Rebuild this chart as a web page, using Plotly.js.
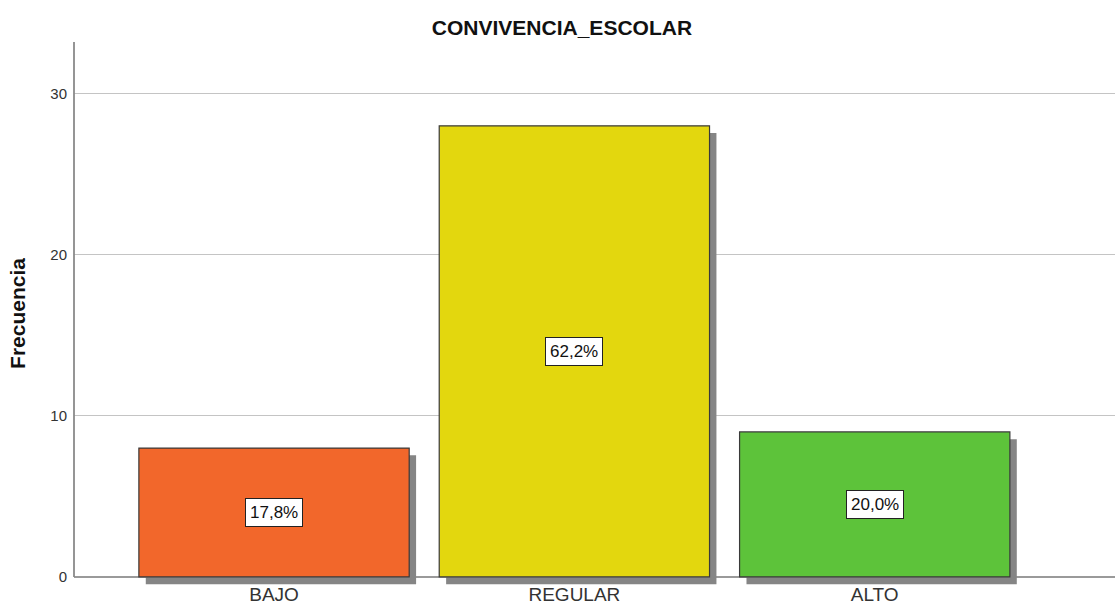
<!DOCTYPE html>
<html>
<head>
<meta charset="utf-8">
<script src="https://cdn.plot.ly/plotly-3.0.1.min.js"></script>
<style>html,body{margin:0;padding:0;background:#fff;}#chart{width:1115px;height:608px;}</style>
</head>
<body>
<div id="chart"></div>
<script>
const categories = ["BAJO", "REGULAR", "ALTO"];
const counts = [8, 28, 9];
const barColors = ["#F2672B", "#E3D70E", "#5DC33A"];
const yTicks = [0, 10, 20, 30];

const total = counts.reduce((a, b) => a + b, 0);
const pctLabels = counts.map(v => (v / total * 100).toFixed(1).replace('.', ',') + '%');

const FONT = "Liberation Sans, Arial, sans-serif";

const shadow = {
  type: 'bar', x: categories, y: counts, base: -0.45,
  width: 0.9, offset: -0.427,
  marker: {color: '#858585', line: {width: 0}},
  hoverinfo: 'skip', showlegend: false
};
const bars = {
  type: 'bar', x: categories, y: counts, width: 0.9,
  marker: {color: barColors, line: {color: '#3a3a3a', width: 1.2}},
  showlegend: false
};

const annotations = categories.map((c, i) => ({
  x: c, y: counts[i] / 2, xref: 'x', yref: 'y', text: pctLabels[i], showarrow: false,
  font: {family: FONT, size: 17, color: '#111'},
  bgcolor: '#ffffff', bordercolor: '#222', borderwidth: 1, borderpad: 4
}));

const layout = {
  width: 1115, height: 608,
  margin: {l: 74, r: 0, t: 42, b: 23},
  paper_bgcolor: '#fff', plot_bgcolor: '#fff',
  barmode: 'overlay',
  title: {text: 'CONVIVENCIA_ESCOLAR', x: 0.504, xref: 'container', y: 0.955, yref: 'container', yanchor: 'middle',
    font: {family: FONT, size: 21, color: '#111', weight: 'bold'}},
  xaxis: {type: 'category', range: [-0.666, 2.80], showgrid: false, showline: false, zeroline: false,
    ticks: '', ticklabelstandoff: -4, tickfont: {family: FONT, size: 19, color: '#333'}, fixedrange: true},
  yaxis: {range: [-0.5, 33.2], tickvals: yTicks, ticktext: yTicks.map(String), showgrid: true,
    gridcolor: '#c4c4c4', gridwidth: 1, zeroline: true, zerolinecolor: '#9a9a9a', zerolinewidth: 1.2,
    showline: false, ticks: '', ticklabelstandoff: 6,
    tickfont: {family: FONT, size: 15, color: '#333'},
    title: {text: 'Frecuencia', standoff: 18, font: {family: FONT, size: 21, color: '#111', weight: 'bold'}},
    fixedrange: true},
  shapes: [{type: 'line', xref: 'paper', yref: 'y', x0: 0, x1: 0, y0: 0, y1: 33.2,
    line: {color: '#8a8a8a', width: 1.8}}],
  annotations: annotations
};

Plotly.newPlot('chart', [shadow, bars], layout, {displayModeBar: false, staticPlot: true});
</script>
</body>
</html>
